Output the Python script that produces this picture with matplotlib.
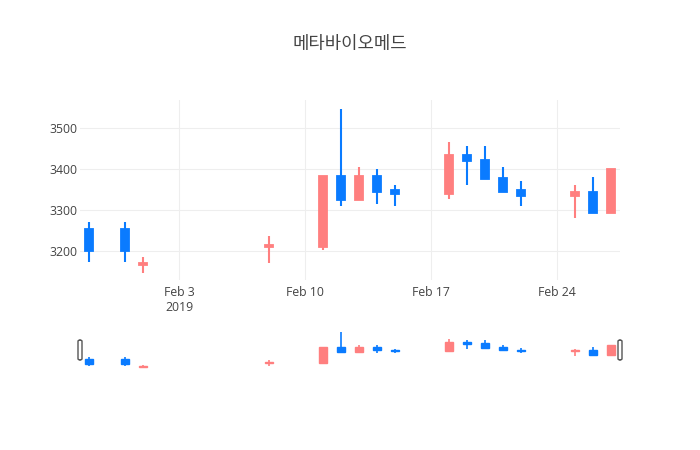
import matplotlib
matplotlib.use("Agg")
import matplotlib.pyplot as plt
import matplotlib.dates as mdates
from matplotlib.patches import FancyBboxPatch
import datetime as dt

dates = ["2019-01-29", "2019-01-31", "2019-02-01", "2019-02-08", "2019-02-11",
         "2019-02-12", "2019-02-13", "2019-02-14", "2019-02-15", "2019-02-18",
         "2019-02-19", "2019-02-20", "2019-02-21", "2019-02-22", "2019-02-25",
         "2019-02-26", "2019-02-27"]
opens = [3253, 3253, 3166, 3209, 3209, 3382, 3324, 3382, 3348, 3339, 3432, 3422, 3378, 3348, 3334, 3343, 3293]
highs = [3270, 3270, 3185, 3236, 3382, 3545, 3405, 3400, 3359, 3464, 3454, 3454, 3405, 3370, 3360, 3380, 3400]
lows = [3172, 3172, 3147, 3171, 3201, 3310, 3324, 3315, 3310, 3326, 3361, 3374, 3342, 3310, 3281, 3291, 3293]
closes = [3199, 3199, 3171, 3213, 3382, 3324, 3382, 3344, 3339, 3432, 3418, 3374, 3344, 3334, 3343, 3292, 3399]

title = "메타바이오메드"
xtick_dates = ["2019-02-03", "2019-02-10", "2019-02-17", "2019-02-24"]
xtick_labels = ["Feb 3\n2019", "Feb 10", "Feb 17", "Feb 24"]
ytick_vals = [3200, 3300, 3400, 3500]

INC = "#FF7F7F"
DEC = "#0A7BFF"
TXT = "#444444"
GRID = "#EEEEEE"

plt.rcParams['font.family'] = ['Open Sans', 'Noto Sans CJK KR', 'DejaVu Sans']

W, H = 700, 450
fig = plt.figure(figsize=(7, 4.5), dpi=100)

x = [mdates.date2num(dt.datetime.strptime(d, "%Y-%m-%d")) for d in dates]
xmin, xmax = min(x) - 0.5, max(x) + 0.5
ymin, ymax = 3129, 3567


def px_axes(l, t, r, b):
    return fig.add_axes([l / W, 1 - b / H, (r - l) / W, (b - t) / H])


def draw_candles(ax, wick_lw, body_lw, width):
    for xi, o, h, l, c in zip(x, opens, highs, lows, closes):
        col = INC if c >= o else DEC
        ax.vlines(xi, l, h, color=col, linewidth=wick_lw, zorder=2)
        ax.bar(xi, abs(c - o), bottom=min(o, c), width=width, color=col,
               edgecolor=col, linewidth=body_lw, zorder=3)


ax = px_axes(80, 100, 620, 280)
draw_candles(ax, 1.5, 1.3, 0.47)
ax.set_xlim(xmin, xmax)
ax.set_ylim(ymin, ymax)
for s in ax.spines.values():
    s.set_visible(False)
ax.set_xticks([mdates.date2num(dt.datetime.strptime(d, "%Y-%m-%d")) for d in xtick_dates])
ax.set_xticklabels(xtick_labels, fontsize=8.8, color=TXT, linespacing=1.25)
ax.set_yticks(ytick_vals)
ax.set_yticklabels([str(v) for v in ytick_vals], fontsize=8.8, color=TXT)
ax.tick_params(axis="x", length=0, pad=4)
ax.tick_params(axis="y", length=0, pad=2)
ax.grid(True, color=GRID, linewidth=0.8)
ax.set_axisbelow(True)

fig.text(350 / W, 1 - 44 / H, title, ha="center", va="center", fontsize=12.8,
         color=TXT, family=['Noto Sans CJK KR', 'DejaVu Sans'])

sl = px_axes(80, 330, 620, 370)
draw_candles(sl, 1.2, 1.0, 0.47)
sl.set_xlim(xmin, xmax)
sl.set_ylim(ymin, ymax)
sl.axis("off")

for hx in (80, 620):
    p = FancyBboxPatch(((hx - 2) / W, 1 - 360 / H), 4 / W, 20 / H,
                       boxstyle="round,pad=0,rounding_size=0.003",
                       transform=fig.transFigure, facecolor="white",
                       edgecolor="#555555", linewidth=1.0, zorder=5)
    fig.patches.append(p)

fig.savefig("out.png", dpi=100)
